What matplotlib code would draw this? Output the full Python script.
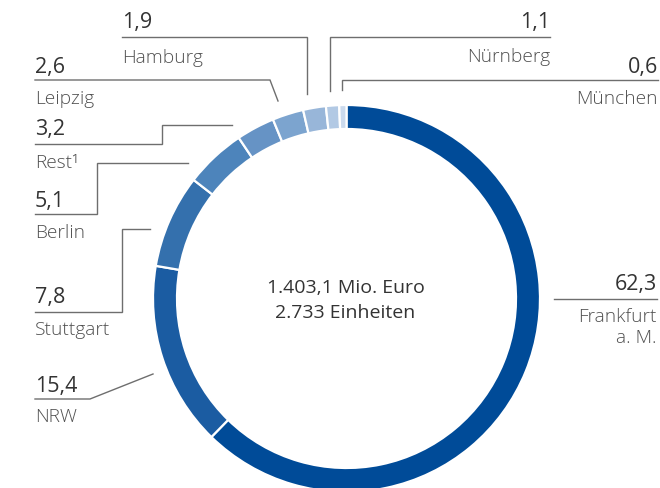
import matplotlib
matplotlib.use("Agg")
import matplotlib.pyplot as plt

# ---- data ----
categories = ["Frankfurt\na. M.", "NRW", "Stuttgart", "Berlin", "Rest¹",
              "Leipzig", "Hamburg", "Nürnberg", "München"]
shares = [62.3, 15.4, 7.8, 5.1, 3.2, 2.6, 1.9, 1.1, 0.6]
value_labels = ["62,3", "15,4", "7,8", "5,1", "3,2", "2,6", "1,9", "1,1", "0,6"]
center_lines = ["1.403,1 Mio. Euro", "2.733 Einheiten"]

# ---- style ----
colors = ["#004b98", "#1b5ca2", "#3470ad", "#4d84bb", "#6693c5",
          "#7ca4cf", "#98b6d9", "#b2c9e4", "#cbdaed"]
FONT = ["Open Sans", "DejaVu Sans"]
VAL_COLOR = "#333333"
LAB_COLOR = "#505050"
LINE_COLOR = "#6e6e6e"

W, H = 660, 489
fig = plt.figure(figsize=(W / 100, H / 100), dpi=100)
ax = fig.add_axes([0, 0, 1, 1])

cx, cy, R, ring = 346.5, 299.5, 193.5, 24
# y axis inverted -> data angle -90 is top of the picture; counterclock in data = clockwise visually
ax.pie(shares, colors=colors, startangle=-90, counterclock=True,
       radius=R, center=(cx, cy),
       wedgeprops=dict(width=ring, edgecolor="white", linewidth=1.6))
ax.set_xlim(0, W)
ax.set_ylim(H, 0)
ax.set_aspect("equal")
ax.axis("off")

# ---- layout of labels (pixel positions) ----
layout = {
    "Hamburg":   (122, 28, 63, "left", [(122, 38), (307, 38), (307, 95)]),
    "Leipzig":   (35, 73, 104, "left", [(35, 81), (270, 81), (278, 102)]),
    "Rest¹":     (35, 135, 168, "left", [(35, 145), (162, 145), (162, 126), (232, 126)]),
    "Berlin":    (35, 207, 238, "left", [(35, 215), (97, 215), (97, 164), (188, 164)]),
    "Stuttgart": (35, 303, 335, "left", [(35, 313), (122, 313), (122, 230), (150, 230)]),
    "NRW":       (35, 392, 422, "left", [(35, 400), (90, 400), (153, 375)]),
    "Nürnberg":  (550, 28, 62, "right", [(550, 38), (330, 38), (330, 92)]),
    "München":   (658, 73, 104, "right", [(658, 81), (342, 81), (342, 91)]),
    "Frankfurt\na. M.": (657, 290, 322, "right", [(657, 300), (554, 300)]),
}

for cat, val in zip(categories, value_labels):
    x, yv, yl, ha, pts = layout[cat]
    ax.text(x, yv, val, ha=ha, va="baseline", fontsize=15.5,
            color=VAL_COLOR, family=FONT)
    lines = cat.split("\n")
    for i, ln in enumerate(lines):
        ax.text(x, yl + i * 21, ln, ha=ha, va="baseline", fontsize=13.8,
                color=LAB_COLOR, family=FONT, fontweight="light")
    xs = [p[0] for p in pts]
    ys = [p[1] for p in pts]
    ax.plot(xs, ys, color=LINE_COLOR, lw=1.0, solid_joinstyle="miter")

ax.text(346, 293, center_lines[0], ha="center", va="baseline", fontsize=14,
        color=VAL_COLOR, family=FONT)
ax.text(345, 318, center_lines[1], ha="center", va="baseline", fontsize=14,
        color=VAL_COLOR, family=FONT)

fig.savefig("out.png", dpi=100)
